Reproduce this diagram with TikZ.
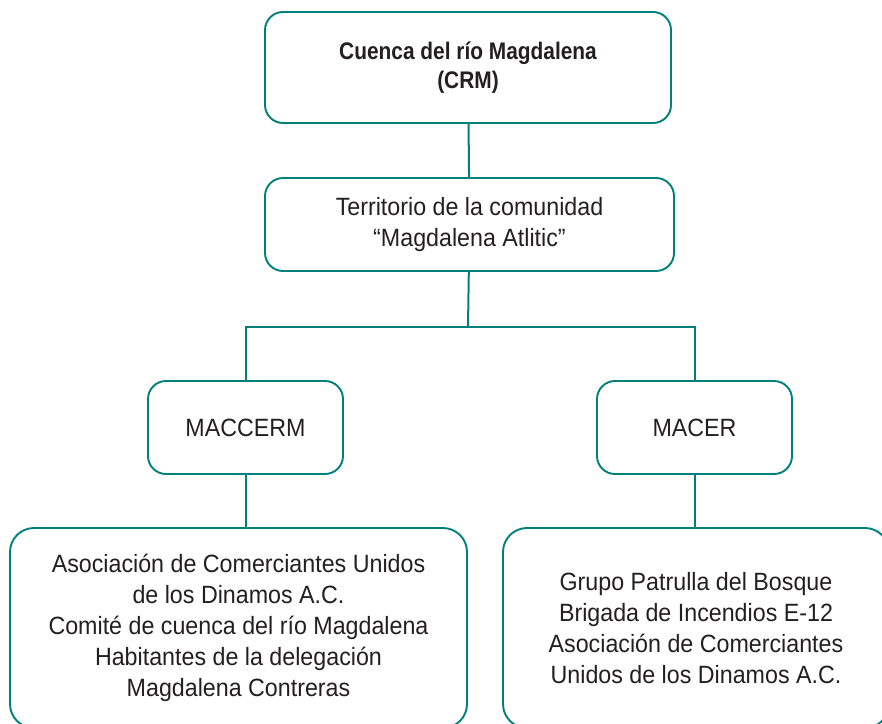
\documentclass[tikz,border=0pt]{standalone}
\usepackage{fontspec}
\setmainfont[FakeStretch=0.93]{Liberation Sans}
\newfontfamily\titulofont[FakeStretch=0.87]{Liberation Sans}
\usepackage{xcolor}
\definecolor{verdeazul}{RGB}{0,128,122}
\definecolor{texto}{RGB}{35,31,32}
\tikzset{caja/.style={draw=verdeazul,line width=1.9pt,rounded corners=18pt,align=center,
		text=texto,inner sep=0pt,font=\fontsize{25}{31}\selectfont},
	liga/.style={draw=verdeazul,line width=2pt}}

\begin{document}
\begin{tikzpicture}[x=1pt,y=-1pt]
	\useasboundingbox (0,0) rectangle (882,723);
	\clip (0,0) rectangle (882,723);

	\coordinate (A) at (468,67.5);
	\coordinate (B) at (469.5,224.5);
	\coordinate (C) at (245.5,427.5);
	\coordinate (D) at (694.5,427.5);
	\coordinate (E) at (238.5,628);
	\coordinate (F) at (696,628);
	\coordinate (rama) at (468,327);

	\node[caja,minimum width=406pt,minimum height=111pt,
		font=\titulofont\fontsize{24}{29}\selectfont\bfseries] (crm) at (A)
		{Cuenca del río Magdalena\\(CRM)};
	\node[caja,minimum width=409pt,minimum height=93pt] (territorio) at (B)
		{Territorio de la comunidad\\“Magdalena Atlitic”};
	\node[caja,minimum width=195pt,minimum height=93pt] (maccerm) at (C) {MACCERM};
	\node[caja,minimum width=195pt,minimum height=93pt] (macer) at (D) {MACER};
	\node[caja,rounded corners=24pt,minimum width=457pt,minimum height=200pt] (gruposIzq) at (E)
		{Asociación de Comerciantes Unidos\\de los Dinamos A.C.\\Comité de cuenca del río Magdalena\\Habitantes de la delegación\\Magdalena Contreras};
	\node[caja,rounded corners=24pt,minimum width=386pt,minimum height=200pt] (gruposDer) at (F)
		{Grupo Patrulla del Bosque\\Brigada de Incendios E-12\\Asociación de Comerciantes\\Unidos de los Dinamos A.C.};

	\draw[liga] (crm) -- (territorio);
	\draw[liga] (territorio) -- (rama);
	\draw[liga] (maccerm.north) |- (rama) -| (macer.north);
	\draw[liga] (maccerm) -- (gruposIzq.north -| maccerm);
	\draw[liga] (macer) -- (gruposDer.north -| macer);

\end{tikzpicture}
\end{document}
